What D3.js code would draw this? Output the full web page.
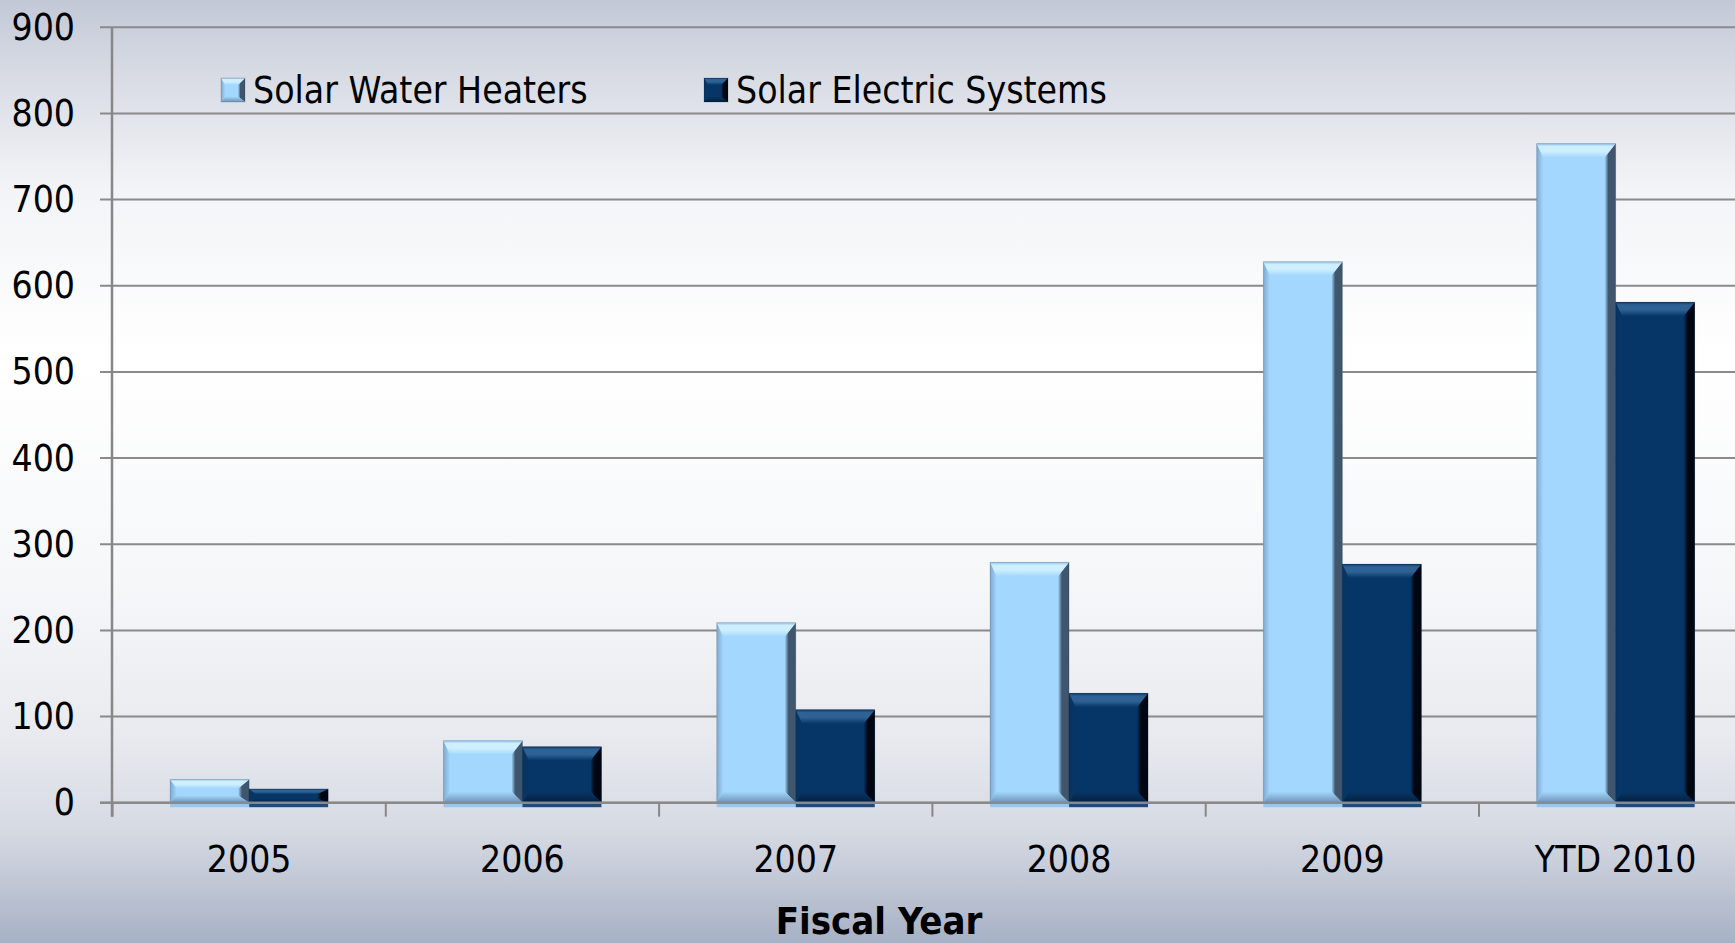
<!DOCTYPE html>
<html>
<head>
<meta charset="utf-8">
<script src="https://cdn.jsdelivr.net/npm/d3@7/dist/d3.min.js"></script>
<style>
  html, body { margin: 0; padding: 0; overflow: hidden; }
  svg { display: block; }
  text { font-family: "DejaVu Sans Condensed", "DejaVu Sans", sans-serif; font-stretch: condensed; fill: #000; }
</style>
</head>
<body>
<script>
// ---- data ----
const categories = ["2005", "2006", "2007", "2008", "2009", "YTD 2010"];
const seriesNames = ["Solar Water Heaters", "Solar Electric Systems"];
const waterHeaters = [27, 72, 209, 279, 628, 765];
const electricSystems = [16, 65, 108, 127, 277, 581];
const yTicks = [0, 100, 200, 300, 400, 500, 600, 700, 800, 900];
const axisTitle = "Fiscal Year";

const W = 1735, H = 943;
const svg = d3.select("body").append("svg").attr("width", W).attr("height", H);
const defs = svg.append("defs");

// background gradient
const bg = defs.append("linearGradient").attr("id", "bg").attr("x1", 0).attr("y1", 0).attr("x2", 0).attr("y2", 1);
[[0, "#c2c8d6"], [0.06, "#d3d7e1"], [0.2, "#f3f4f7"], [0.38, "#ffffff"], [0.62, "#f6f7f9"], [0.78, "#e8eaef"], [0.88, "#d6dae3"], [1, "#a7b1c5"]]
  .forEach(([o, c]) => bg.append("stop").attr("offset", o).attr("stop-color", c));
svg.append("rect").attr("width", W).attr("height", H).attr("fill", "url(#bg)");

// scales
const step = 273.3;
const x0 = 112.5;
const x = d3.scaleBand().domain(categories).range([x0, x0 + step * categories.length]).paddingInner(0).paddingOuter(0);
const xs = d3.scaleBand().domain(seriesNames).range([0, x.bandwidth()]).paddingInner(0).paddingOuter(0.73);
const y = d3.scaleLinear().domain([0, 900]).range([802.7, 27.3]);

// gridlines
svg.append("g").selectAll("line").data(yTicks).join("line")
  .attr("x1", 100).attr("x2", W)
  .attr("y1", d => y(d)).attr("y2", d => y(d))
  .attr("stroke", "#8a8a8a").attr("stroke-width", 2);

// y tick labels
svg.append("g").selectAll("text").data(yTicks).join("text")
  .attr("x", 75).attr("y", d => y(d) + 2)
  .attr("text-anchor", "end").attr("dominant-baseline", "middle")
  .style("font-size", "37px")
  .text(d => d);

// palette for bevelled bars
const pal = {
  "Solar Water Heaters": { key: "w", main: "#a3d7fd", edgeTop: "#8fbfe6", hi: "#cdefff", left: "#7fa9d0", right: "#3f566e", bottom: "#6f93b6", under: "#9ac6ee" },
  "Solar Electric Systems": { key: "e", main: "#063667", edgeTop: "#0a3a6a", hi: "#2f6294", left: "#0a3460", right: "#000712", bottom: "#04203f", under: "#1f4a7a" }
};

function grad(id, vertical, stops) {
  const g = defs.append("linearGradient").attr("id", id)
    .attr("x1", 0).attr("y1", 0).attr("x2", vertical ? 0 : 1).attr("y2", vertical ? 1 : 0);
  stops.forEach(([o, c]) => g.append("stop").attr("offset", o).attr("stop-color", c));
}
Object.values(pal).forEach(p => {
  grad(p.key + "top", true, [[0, p.edgeTop], [0.2, p.hi], [0.55, p.hi], [1, p.main]]);
  grad(p.key + "bot", true, [[0, p.main], [1, p.bottom]]);
  grad(p.key + "left", false, [[0, p.left], [1, p.main]]);
  grad(p.key + "right", false, [[0, p.main], [0.35, p.right], [1, p.right]]);
});

const rows = [];
categories.forEach((c, i) => {
  rows.push({ cat: c, s: seriesNames[0], v: waterHeaters[i] });
  rows.push({ cat: c, s: seriesNames[1], v: electricSystems[i] });
});

function bevel(g, p, xl, yt, w, h, b, bs) {
  const xr = xl + w, yb = yt + h;
  const poly = (pts, fill) => g.append("polygon").attr("points", pts.map(q => q.join(",")).join(" ")).attr("fill", fill);
  g.append("rect").attr("x", xl).attr("y", yt).attr("width", w).attr("height", h).attr("fill", p.main);
  poly([[xl, yt], [xl + bs * 0.6, yt + b], [xl + bs * 0.6, yb - b * 0.8], [xl, yb]], `url(#${p.key}left)`);
  poly([[xr, yt], [xr - bs, yt + b], [xr - bs, yb - b * 0.8], [xr, yb]], `url(#${p.key}right)`);
  poly([[xl, yt], [xr, yt], [xr - bs, yt + b], [xl + bs * 0.6, yt + b]], `url(#${p.key}top)`);
  poly([[xl, yb], [xr, yb], [xr - bs, yb - b * 0.8], [xl + bs * 0.6, yb - b * 0.8]], `url(#${p.key}bot)`);
  g.append("rect").attr("x", xl).attr("y", yt).attr("width", w).attr("height", h)
    .attr("fill", "none").attr("stroke", "rgba(0,0,0,0.15)").attr("stroke-width", 1);
}

const bars = svg.append("g").selectAll("g").data(rows).join("g");
bars.each(function(d) {
  const g = d3.select(this);
  const p = pal[d.s];
  const xl = x(d.cat) + xs(d.s), w = xs.bandwidth();
  const yt = y(d.v), yb = y(0);
  const h = yb - yt;
  g.append("rect").attr("x", xl).attr("y", yb).attr("width", w).attr("height", 4.5).attr("fill", p.under);
  bevel(g, p, xl, yt, w, h, Math.min(14, h / 2.6), Math.min(11, w / 6));
});

// axis lines
svg.append("line").attr("x1", x0 - 0.5).attr("x2", x0 - 0.5).attr("y1", y(900)).attr("y2", y(0) + 14)
  .attr("stroke", "#878787").attr("stroke-width", 2.5);
svg.append("line").attr("x1", 100).attr("x2", W).attr("y1", y(0)).attr("y2", y(0))
  .attr("stroke", "#8a8a8a").attr("stroke-width", 2.5);
const bounds = d3.range(categories.length + 1).map(i => x0 + i * x.step());
svg.append("g").selectAll("line").data(bounds).join("line")
  .attr("x1", d => d).attr("x2", d => d).attr("y1", y(0)).attr("y2", y(0) + 14)
  .attr("stroke", "#878787").attr("stroke-width", 2);

// x tick labels
svg.append("g").selectAll("text").data(categories).join("text")
  .attr("x", d => x(d) + x.bandwidth() / 2).attr("y", 872)
  .attr("text-anchor", "middle").style("font-size", "37px")
  .text(d => d);

// axis title
svg.append("text").attr("x", 879).attr("y", 934).attr("text-anchor", "middle")
  .style("font-size", "38px").style("font-weight", "bold").text(axisTitle);

// legend
const legX = [221, 704];
seriesNames.forEach((s, i) => {
  const p = pal[s];
  const g = svg.append("g").attr("transform", `translate(${legX[i]},78)`);
  bevel(g, p, 0, 0, 24, 24, 7, 7);
  g.append("text").attr("x", 32).attr("y", 25).style("font-size", "37px").text(s);
});
</script>
</body>
</html>
